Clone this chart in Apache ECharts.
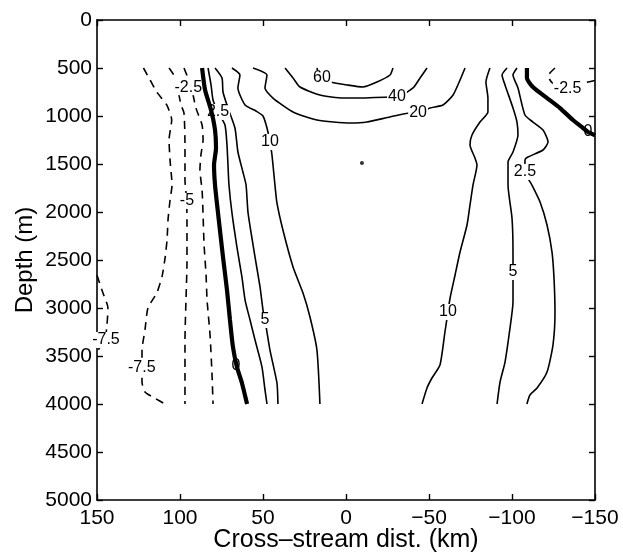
<!DOCTYPE html>
<html>
<head>
<meta charset="utf-8">
<script src="https://cdn.jsdelivr.net/npm/echarts@6/dist/echarts.min.js"></script>
<style>
  html, body { margin: 0; padding: 0; background: #fff; }
  #chart { width: 623px; height: 554px; }
</style>
</head>
<body>
<div id="chart"></div>
<script>
// Contour lines of cross-stream velocity, each as [distance km, depth m] pairs.
const xTicks = [150, 100, 50, 0, -50, -100, -150];
const depthTicks = [0, 500, 1000, 1500, 2000, 2500, 3000, 3500, 4000, 4500, 5000];

const cNeg75 = [[122,500],[118,625],[114,750],[108,885],[105,1040],[106.6,1250],[106,1460],[104.8,1720],[106,1875],[107.2,2080],[107.8,2290],[109,2480],[110.8,2670],[113.9,2840],[119.3,3000],[121.1,3230],[122.9,3440],[122.9,3770],[121.1,3875],[115.1,3940],[109,4000]];
const cNeg75Edge = [[150,2660],[146.4,2844],[143.4,3000],[144,3177],[145,3300],[150,3460]];
const cNeg5 = [[106.6,500],[103,594],[101.2,729],[99.4,885],[97.6,969],[97,1302],[97,1510],[97,1667],[96,1875],[95.8,2083],[95.8,2344],[95.8,2531],[96.4,2917],[97,3333],[97,3750],[97,4000]];
const cNeg25L = [[97.6,500],[95.2,604],[92.8,729],[90.4,917],[86.7,1094],[86.1,1250],[87.4,1406],[88,1563],[86.7,1771],[86.1,2031],[85.5,2344],[84.3,2656],[83.7,2917],[81.9,3281],[80.7,3698],[80.1,4000]];
const cZeroL = [[86.7,500],[84.9,729],[81.3,938],[78.9,1146],[78.3,1333],[79.5,1510],[78.9,1719],[77.1,2010],[74.1,2469],[71.7,2813],[69.9,3125],[68.1,3406],[65.7,3615],[62.7,3781],[59.6,4000]];
const c25L = [[83.1,500],[81.3,677],[80.1,833],[77.1,958],[72.9,1094],[71.7,1302],[71.1,1510],[70.5,1719],[68.7,2010],[65.7,2365],[62.7,2677],[60.8,2917],[57.8,3125],[54.8,3333],[50.6,3615],[48.8,3854],[47.6,4000]];
const c5L = [[78.9,500],[74.7,604],[74.1,750],[71.1,917],[66.9,1125],[65.1,1375],[62.1,1583],[60.2,1719],[59,2010],[54.8,2469],[51.8,2781],[50,3021],[48.8,3125],[45.8,3438],[41.6,3781],[41,4000]];
const c10L = [[68.7,500],[63.9,573],[65.1,708],[60.8,885],[54.2,948],[50,1000],[47.6,1125],[45.8,1271],[44.6,1406],[42.8,1719],[41.6,1906],[38,2188],[31.9,2573],[25.9,2844],[21.7,3094],[17.5,3438],[15.7,4000]];
const c20 = [[56,500],[47.6,573],[48.8,708],[44,813],[31.9,958],[17.5,1042],[-2.4,1073],[-12.6,1063],[-26.5,1010],[-38.6,969],[-43.4,969],[-50.6,917],[-58.4,885],[-64.5,781],[-68.7,625],[-71.7,500]];
const c40 = [[36.7,500],[31.9,604],[27.7,698],[15.7,781],[1.8,813],[-8.4,813],[-26.5,802],[-30.7,802],[-40.4,708],[-44.6,604],[-48.8,500]];
const c60 = [[17.5,500],[15.7,604],[9.6,646],[-0.6,677],[-10.2,698],[-18.7,646],[-26.5,573],[-28.3,500]];
const c10R = [[-86.7,500],[-84.3,646],[-85.5,813],[-85.5,958],[-80.7,1063],[-75.9,1198],[-74.7,1302],[-77.7,1438],[-78.9,1510],[-76.5,1719],[-74.7,1927],[-72.9,2135],[-68.7,2417],[-65.7,2656],[-62.7,2896],[-61.4,3042],[-59.6,3250],[-56.6,3594],[-51.8,3729],[-48.8,3833],[-45.8,4000]];
const c5R = [[-97,500],[-94,573],[-95.8,677],[-100.6,917],[-103,1063],[-103.6,1198],[-100.6,1375],[-97.6,1479],[-97.6,1719],[-100,2063],[-100.6,2417],[-100.6,2625],[-100.6,2938],[-98.8,3208],[-95.8,3563],[-92.8,3771],[-91,4000]];
const c25R = [[-103,500],[-100.6,573],[-103.6,708],[-107.8,990],[-112.6,1063],[-118.7,1146],[-121.7,1271],[-118.7,1354],[-109.6,1427],[-107.8,1458],[-107.8,1583],[-112,1719],[-116.9,1896],[-121.1,2135],[-124.1,2417],[-125.3,2688],[-125.9,3042],[-124.7,3385],[-121.1,3667],[-115.1,3833],[-110.8,3906],[-109,4000]];
const cZeroR = [[-109,500],[-109,604],[-112.6,698],[-121.1,813],[-128.9,917],[-136.7,1042],[-142.8,1125],[-145.8,1167],[-150,1200]];
const cNeg25R = [[-125.9,500],[-121.7,583],[-124,650],[-128.9,698],[-136,715],[-142.8,660],[-150,630]];

// Inline contour labels: [distance km, depth m, text]
const contourLabels = [
  [144.6, 3333, '-7.5'], [123, 3625, '-7.5'], [95.8, 1885, '-5'], [95, 700, '-2.5'],
  [66.3, 3604, '0'], [77.1, 958, '2.5'], [48.8, 3125, '5'], [45.8, 1271, '10'],
  [-43.4, 969, '20'], [-30.7, 802, '40'], [14.5, 604, '60'],
  [-61.4, 3042, '10'], [-100.6, 2625, '5'], [-107.8, 1583, '2.5'],
  [-145.8, 1167, '0'], [-133.5, 718, '-2.5']
];
const spot = [[-9.6, 1490]];

const FONT = 'Liberation Sans, Arial, Helvetica, sans-serif';
const thin = { color: '#000', width: 1.6, type: 'solid' };
const dashed = { color: '#000', width: 1.6, type: [8, 6] };
const thick = { color: '#000', width: 4.2, type: 'solid' };

function contour(data, style, z) {
  return {
    type: 'line', data: data, xAxisIndex: 0, yAxisIndex: 0,
    showSymbol: false, symbol: 'none', smooth: 0.2, z: z,
    lineStyle: style, silent: true, animation: false
  };
}

const minus = v => String(v).replace('-', '\u2212');
const plain = v => String(v);

const axisLineStyle = { show: true, onZero: false, lineStyle: { color: '#000', width: 1.6 } };
const tickStyle = { show: true, inside: true, length: 6, lineStyle: { color: '#000', width: 1.4 } };

const chart = echarts.init(document.getElementById('chart'), null, { renderer: 'canvas' });
chart.setOption({
  backgroundColor: '#fff',
  animation: false,
  grid: { left: 97, right: 28, top: 20, bottom: 54, containLabel: false, outerBoundsMode: 'none' },
  xAxis: [
    {
      type: 'value', min: -150, max: 150, interval: 50, inverse: true, position: 'bottom',
      name: 'Cross\u2013stream dist. (km)', nameLocation: 'middle', nameGap: 28, nameMoveOverlap: false,
      nameTextStyle: { fontFamily: FONT, fontSize: 25, color: '#000' },
      axisLine: axisLineStyle, axisTick: tickStyle,
      axisLabel: { fontFamily: FONT, fontSize: 21, color: '#000', margin: 8, formatter: minus },
      splitLine: { show: false }
    },
    {
      type: 'value', min: -150, max: 150, interval: 50, inverse: true, position: 'top',
      axisLine: axisLineStyle, axisTick: tickStyle,
      axisLabel: { show: false }, splitLine: { show: false }
    }
  ],
  yAxis: [
    {
      type: 'value', min: 0, max: 5000, interval: 500, inverse: true, position: 'left',
      name: 'Depth (m)', nameLocation: 'middle', nameGap: 60, nameRotate: 90, nameMoveOverlap: false,
      nameTextStyle: { fontFamily: FONT, fontSize: 24, color: '#000' },
      axisLine: axisLineStyle, axisTick: tickStyle,
      axisLabel: { fontFamily: FONT, fontSize: 21, color: '#000', margin: 5, formatter: plain },
      splitLine: { show: false }
    },
    {
      type: 'value', min: 0, max: 5000, interval: 500, inverse: true, position: 'right',
      axisLine: axisLineStyle, axisTick: tickStyle,
      axisLabel: { show: false }, splitLine: { show: false }
    }
  ],
  series: [
    contour(cNeg75, dashed, 2),
    contour(cNeg75Edge, dashed, 2),
    contour(cNeg5, dashed, 2),
    contour(cNeg25L, dashed, 2),
    contour(c25L, thin, 2),
    contour(c5L, thin, 2),
    contour(c10L, thin, 2),
    contour(c20, thin, 2),
    contour(c40, thin, 2),
    contour(c60, thin, 2),
    contour(c10R, thin, 2),
    contour(c5R, thin, 2),
    contour(c25R, thin, 2),
    contour(cNeg25R, dashed, 2),
    {
      type: 'scatter', z: 3, silent: true, animation: false,
      data: contourLabels.map(d => ({ value: [d[0], d[1]], name: d[2] })),
      symbolSize: 1, itemStyle: { color: '#fff', opacity: 1 },
      label: {
        show: true, position: 'inside', formatter: p => p.name,
        fontFamily: FONT, fontSize: 16, color: '#000', opacity: 1,
        backgroundColor: '#fff', padding: [0, 1]
      }
    },
    contour(cZeroL, thick, 4),
    contour(cZeroR, thick, 4),
    {
      type: 'scatter', z: 4, silent: true, animation: false,
      data: spot, symbol: 'circle', symbolSize: 4, itemStyle: { color: '#000' }
    }
  ]
});
</script>
</body>
</html>
